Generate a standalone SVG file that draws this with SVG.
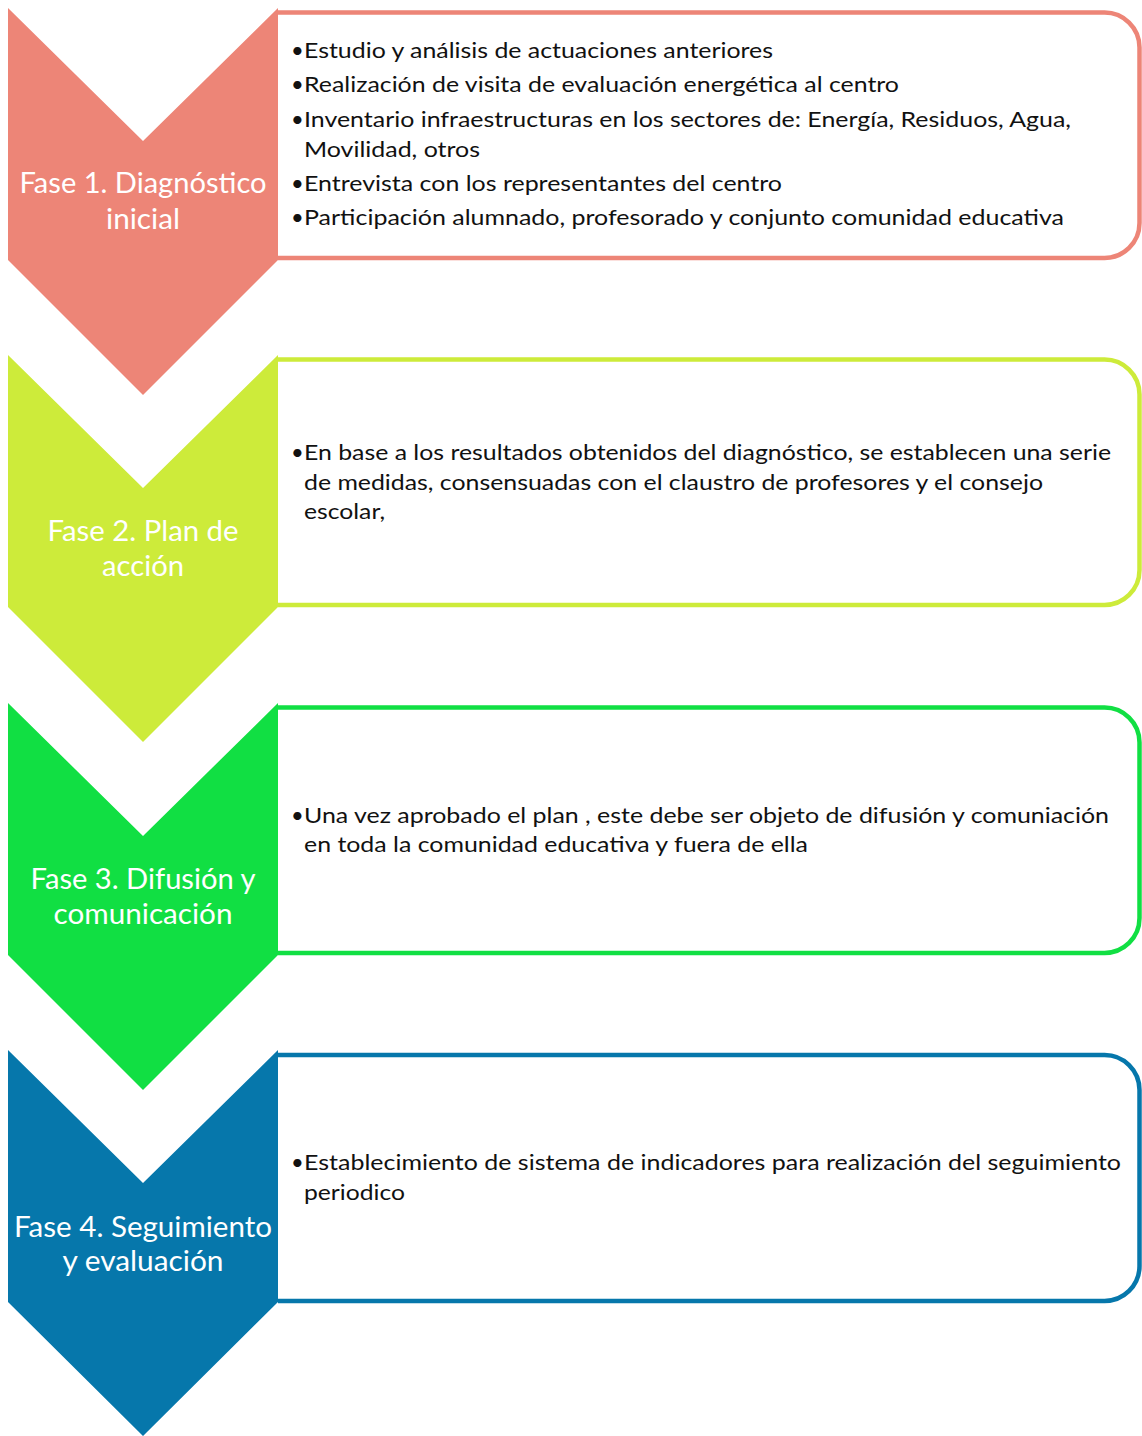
<svg xmlns="http://www.w3.org/2000/svg" width="1142" height="1436" viewBox="0 0 1142 1436">
<style>
.box{fill:#fff;stroke-width:4.5}
.lbl{font-family:Lato,"Noto Sans","Liberation Sans",sans-serif;font-size:28px;fill:#fff;text-anchor:middle}
.txt{font-family:Lato,"Noto Sans","Liberation Sans",sans-serif;font-size:22px;fill:#111}
.c1{fill:#ED8577}.s1{stroke:#ED8577}
.c2{fill:#CDEB3A}.s2{stroke:#CDEB3A}
.c3{fill:#11DF43}.s3{stroke:#11DF43}
.c4{fill:#0677AB}.s4{stroke:#0677AB}
</style>
<g id="connectors"/>
<g id="fase1">
<path class="box s1" d="M278,12.5 H1104 A35,35 0 0 1 1139.5,47.5 V223 A35,35 0 0 1 1104,258 H278"/>
<path class="c1" d="M8,8 L143,141 L278,8 L278,260 L143,395 L8,260 Z"/>
<text class="lbl" x="143" y="193" textLength="247" lengthAdjust="spacingAndGlyphs">Fase 1. Diagnóstico</text>
<text class="lbl" x="143" y="229" textLength="74" lengthAdjust="spacingAndGlyphs">inicial</text>
<text class="txt" x="291" y="58">•</text>
<text class="txt" x="304" y="58" textLength="469" lengthAdjust="spacingAndGlyphs">Estudio y análisis de actuaciones anteriores</text>
<text class="txt" x="291" y="92">•</text>
<text class="txt" x="304" y="92" textLength="595" lengthAdjust="spacingAndGlyphs">Realización de visita de evaluación energética al centro</text>
<text class="txt" x="291" y="127">•</text>
<text class="txt" x="304" y="127" textLength="767" lengthAdjust="spacingAndGlyphs">Inventario infraestructuras en los sectores de: Energía, Residuos, Agua,</text>
<text class="txt" x="304" y="157" textLength="176" lengthAdjust="spacingAndGlyphs">Movilidad, otros</text>
<text class="txt" x="291" y="191">•</text>
<text class="txt" x="304" y="191" textLength="478" lengthAdjust="spacingAndGlyphs">Entrevista con los representantes del centro</text>
<text class="txt" x="291" y="225">•</text>
<text class="txt" x="304" y="225" textLength="760" lengthAdjust="spacingAndGlyphs">Participación alumnado, profesorado y conjunto comunidad educativa</text>
</g>
<g id="fase2">
<path class="box s2" d="M278,359.5 H1104 A35,35 0 0 1 1139.5,394.5 V570 A35,35 0 0 1 1104,605 H278"/>
<path class="c2" d="M8,355 L143,488 L278,355 L278,607 L143,742 L8,607 Z"/>
<text class="lbl" x="143" y="541" textLength="191" lengthAdjust="spacingAndGlyphs">Fase 2. Plan de</text>
<text class="lbl" x="143" y="576" textLength="82" lengthAdjust="spacingAndGlyphs">acción</text>
<text class="txt" x="291" y="460">•</text>
<text class="txt" x="304" y="460" textLength="807" lengthAdjust="spacingAndGlyphs">En base a los resultados obtenidos del diagnóstico, se establecen una serie</text>
<text class="txt" x="304" y="490" textLength="739" lengthAdjust="spacingAndGlyphs">de medidas, consensuadas con el claustro de profesores y el consejo</text>
<text class="txt" x="304" y="519" textLength="81" lengthAdjust="spacingAndGlyphs">escolar,</text>
</g>
<g id="fase3">
<path class="box s3" d="M278,707.5 H1104 A35,35 0 0 1 1139.5,742.5 V918 A35,35 0 0 1 1104,953 H278"/>
<path class="c3" d="M8,703 L143,836 L278,703 L278,955 L143,1090 L8,955 Z"/>
<text class="lbl" x="143" y="889" textLength="225" lengthAdjust="spacingAndGlyphs">Fase 3. Difusión y</text>
<text class="lbl" x="143" y="924" textLength="179" lengthAdjust="spacingAndGlyphs">comunicación</text>
<text class="txt" x="291" y="823">•</text>
<text class="txt" x="304" y="823" textLength="805" lengthAdjust="spacingAndGlyphs">Una vez aprobado el plan , este debe ser objeto de difusión y comuniación</text>
<text class="txt" x="304" y="852" textLength="504" lengthAdjust="spacingAndGlyphs">en toda la comunidad educativa y fuera de ella</text>
</g>
<g id="fase4">
<path class="box s4" d="M278,1055 H1104 A35,35 0 0 1 1139.5,1090 V1266 A35,35 0 0 1 1104,1301 H278"/>
<path class="c4" d="M8,1050 L143,1183 L278,1050 L278,1302 L143,1436 L8,1302 Z"/>
<text class="lbl" x="143" y="1237" textLength="258" lengthAdjust="spacingAndGlyphs">Fase 4. Seguimiento</text>
<text class="lbl" x="143" y="1271" textLength="161" lengthAdjust="spacingAndGlyphs">y evaluación</text>
<text class="txt" x="291" y="1170">•</text>
<text class="txt" x="304" y="1170" textLength="817" lengthAdjust="spacingAndGlyphs">Establecimiento de sistema de indicadores para realización del seguimiento</text>
<text class="txt" x="304" y="1200" textLength="101" lengthAdjust="spacingAndGlyphs">periodico</text>
</g>
</svg>
